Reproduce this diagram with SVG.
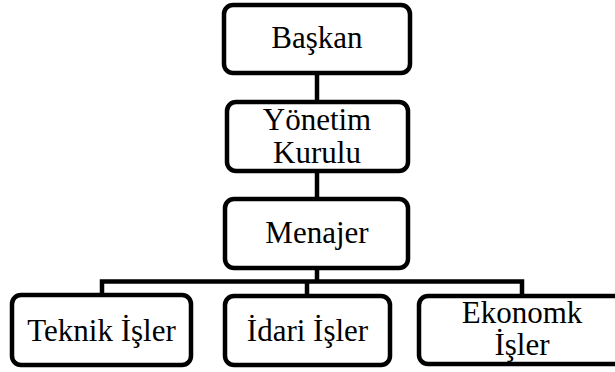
<svg xmlns="http://www.w3.org/2000/svg" width="615" height="372" viewBox="0 0 615 372">
<style>
.box{fill:#fff;stroke:#000;stroke-width:4.5}
.lbl{font-family:"Liberation Serif","Times New Roman",serif;font-size:31px;fill:#000;text-anchor:middle}
.con{fill:none;stroke:#000;stroke-width:4.5;stroke-linejoin:miter}
</style>
<rect width="615" height="372" fill="#fff"/>
<g id="connectors">
<path class="con" d="M317 75V100"/>
<path class="con" d="M317 172V198"/>
<path class="con" d="M317 270V281.5"/>
<path class="con" d="M102 294V281.5H522V294"/>
<path class="con" d="M307 281.5V295"/>
</g>
<g id="baskan">
<rect class="box" x="224" y="5" width="186" height="68" rx="9"/>
<text class="lbl" x="317" y="48">Başkan</text>
</g>
<g id="yonetim">
<rect class="box" x="227" y="102" width="181" height="69" rx="9"/>
<text class="lbl" x="317" y="130">Yönetim<tspan x="317" y="163">Kurulu</tspan></text>
</g>
<g id="menajer">
<rect class="box" x="225" y="199" width="183" height="69" rx="9"/>
<text class="lbl" x="317" y="243">Menajer</text>
</g>
<g id="teknik">
<rect class="box" x="12" y="295" width="179" height="70" rx="9"/>
<text class="lbl" x="101.5" y="341">Teknik İşler</text>
</g>
<g id="idari">
<rect class="box" x="225" y="296" width="165" height="69" rx="9"/>
<text class="lbl" x="307.5" y="341">İdari İşler</text>
</g>
<g id="ekonomik">
<rect class="box" x="419" y="296" width="206" height="68" rx="9"/>
<text class="lbl" x="522" y="323">Ekonomk<tspan x="522" y="355">İşler</tspan></text>
</g>
</svg>
